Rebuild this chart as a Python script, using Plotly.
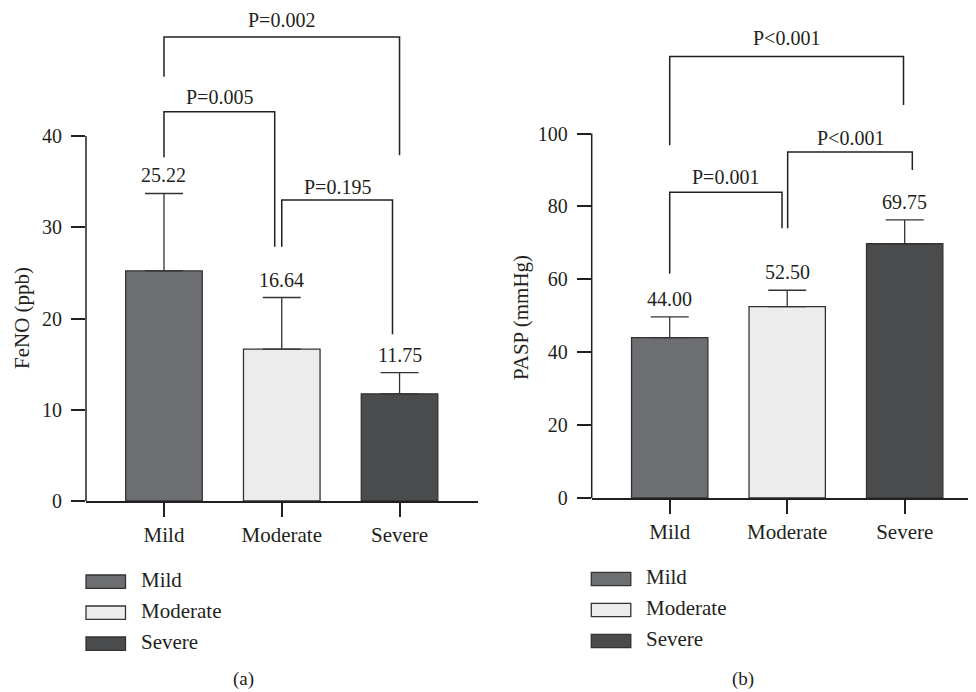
import plotly.graph_objects as go

# ---------------- data ----------------
categories = ["Mild", "Moderate", "Severe"]
feno_mean = [25.22, 16.64, 11.75]
feno_sd = [8.48, 5.66, 2.32]
pasp_mean = [44.00, 52.50, 69.75]
pasp_sd = [5.7, 4.5, 6.55]
feno_ticks = [0, 10, 20, 30, 40]
pasp_ticks = [0, 20, 40, 60, 80, 100]
feno_pvalues = ["P=0.005", "P=0.195", "P=0.002"]
pasp_pvalues = ["P=0.001", "P&lt;0.001", "P&lt;0.001"]

# ---------------- styles / layout ----------------
W, H = 976, 692
OFF = 8  # page body margin
colors = ["#6d6e71", "#ececec", "#4a4b4d"]
ink = "#231f20"
FONT = "Liberation Serif"
FS = 21
FS_NUM = 20

def xp(px):
    return (px - OFF) / W

def yp(py):
    return 1 - (py - OFF) / H

# bracket geometry: (x_left, x_right, y_top, y_left_foot, y_right_foot, y_text)
feno_brackets = [(0, 0.94, 42.67, 37.66, 27.87, 44.3),
                 (1.0, 1.94, 32.99, 27.87, 18.27, 34.4),
                 (0, 2.0, 50.85, 46.5, 37.9, 52.75)]
pasp_brackets = [(0, 0.956, 83.9, 61.5, 74.0, 88.0),
                 (1.004, 2.065, 94.9, 74.0, 90.0, 98.7),
                 (0, 1.99, 121.1, 96.8, 107.8, 126.1)]

fig = go.Figure()

panels = [
    dict(xa="x", ya="y", mean=feno_mean, sd=feno_sd, ticks=feno_ticks,
         brackets=feno_brackets, pvals=feno_pvalues, fmt="{:.2f}"),
    dict(xa="x2", ya="y2", mean=pasp_mean, sd=pasp_sd, ticks=pasp_ticks,
         brackets=pasp_brackets, pvals=pasp_pvalues, fmt="{:.2f}"),
]

xpos = list(range(len(categories)))
for p in panels:
    fig.add_trace(go.Bar(
        x=xpos, y=p["mean"], width=0.65,
        marker=dict(color=colors, line=dict(color="#333333", width=1.3)),
        error_y=dict(type="data", symmetric=False, array=p["sd"],
                     arrayminus=[0] * len(p["sd"]), color="#333333",
                     thickness=1.3, width=19),
        xaxis=p["xa"], yaxis=p["ya"], showlegend=False, hoverinfo="skip"))
    for i, (m, s) in enumerate(zip(p["mean"], p["sd"])):
        fig.add_annotation(x=i, y=m + s, xref=p["xa"], yref=p["ya"],
                           text=p["fmt"].format(m), showarrow=False,
                           xanchor="center", yanchor="middle", yshift=18,
                           font=dict(family=FONT, size=FS_NUM, color=ink))
    for (xl, xr, yt, yl, yr, ytx), pv in zip(p["brackets"], p["pvals"]):
        fig.add_trace(go.Scatter(
            x=[xl, xl, xr, xr], y=[yl, yt, yt, yr], mode="lines",
            line=dict(color=ink, width=1.5), xaxis=p["xa"], yaxis=p["ya"],
            showlegend=False, hoverinfo="skip", cliponaxis=False))
        fig.add_annotation(x=(xl + xr) / 2, y=ytx, xref=p["xa"], yref=p["ya"],
                           text=pv, showarrow=False, xanchor="center",
                           yanchor="middle", borderpad=0,
                           font=dict(family=FONT, size=FS_NUM, color=ink))
    # visible y-axis line only over tick range
    fig.add_shape(type="line", xref=p["xa"] + " domain", yref=p["ya"],
                  x0=0, x1=0, y0=p["ticks"][0], y1=p["ticks"][-1],
                  line=dict(color=ink, width=1.5))

axis_common = dict(showgrid=False, zeroline=False, ticks="outside", ticklen=14,
                   tickwidth=1.5, tickcolor=ink, automargin=False,
                   tickfont=dict(family=FONT, size=FS_NUM, color=ink))

fig.update_layout(
    xaxis=dict(domain=[xp(86), xp(478)], range=[-0.662, 2.666],
               tickvals=xpos, ticktext=categories, showline=True,
               linecolor=ink, linewidth=1.5, anchor="y", **axis_common),
    yaxis=dict(domain=[yp(501), yp(OFF)], range=[0, (501 - OFF) / 9.125],
               tickvals=feno_ticks, showline=False, anchor="x",
               ticklabelstandoff=5, **axis_common),
    xaxis2=dict(domain=[xp(591.7), xp(976)], range=[-0.664, 2.607],
                tickvals=xpos, ticktext=categories, showline=True,
                linecolor=ink, linewidth=1.5, anchor="y2", **axis_common),
    yaxis2=dict(domain=[yp(498), yp(OFF)], range=[0, (498 - OFF) / 3.645],
                tickvals=pasp_ticks, showline=False, anchor="x2",
                ticklabelstandoff=5, **axis_common),
)
fig.update_xaxes(tickfont=dict(family=FONT, size=FS, color=ink))

# axis titles
for title, tx in [("FeNO (ppb)", 22), ("PASP (mmHg)", 521)]:
    fig.add_annotation(x=xp(tx), y=yp(318), xref="paper", yref="paper",
                       text=title, textangle=-90, showarrow=False,
                       xanchor="center", yanchor="middle",
                       font=dict(family=FONT, size=FS, color=ink))

# custom legends
legend_origins = [(86, 575, 139), (591.3, 572.3, 644)]
for bx, by, tx in legend_origins:
    for i, (name, c) in enumerate(zip(categories, colors)):
        top = by + i * 31
        fig.add_shape(type="rect", xref="paper", yref="paper",
                      x0=xp(bx), x1=xp(bx + 39.5), y0=yp(top + 13.3), y1=yp(top),
                      fillcolor=c, line=dict(color="#333333", width=1.3))
        fig.add_annotation(x=xp(tx), y=yp(top + 5), xref="paper", yref="paper",
                           text=name, showarrow=False, xanchor="left",
                           yanchor="middle",
                           font=dict(family=FONT, size=FS, color=ink))

# captions
for cap, cx in [("(a)", 243), ("(b)", 743)]:
    fig.add_annotation(x=xp(cx), y=yp(679), xref="paper", yref="paper",
                       text=cap, showarrow=False, xanchor="center",
                       yanchor="middle",
                       font=dict(family=FONT, size=19, color=ink))

fig.update_layout(width=W, height=H, margin=dict(l=0, r=0, t=0, b=0),
                  paper_bgcolor="white", plot_bgcolor="white", bargap=0.35)

fig.write_html("out.html")
